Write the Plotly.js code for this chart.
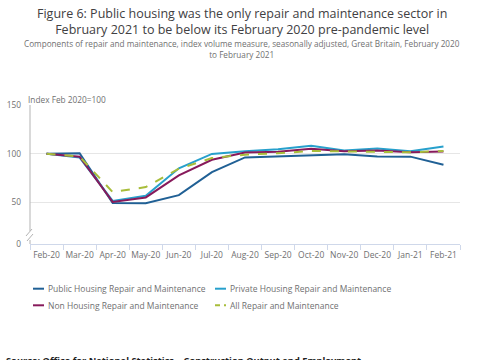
<!DOCTYPE html>
<html>
<head>
<meta charset="utf-8">
<script src="https://cdn.plot.ly/plotly-3.0.1.min.js"></script>
<style>html,body{margin:0;padding:0;background:#fff;}#chart{width:485px;height:360px;}</style>
</head>
<body>
<div id="chart"></div>
<script>
var months = ["Feb-20","Mar-20","Apr-20","May-20","Jun-20","Jul-20","Aug-20","Sep-20","Oct-20","Nov-20","Dec-20","Jan-21","Feb-21"];
var publicHousing = [100, 100.5, 49.3, 49.2, 57.5, 81, 96.2, 97.2, 98.2, 99.5, 97.2, 97.0, 88.7];
var privateHousing = [100, 96, 51.5, 56.9, 85, 99.8, 102.4, 104.5, 108.2, 103.3, 105.4, 102.5, 107.4];
var nonHousing = [100, 97, 50.5, 55.1, 77.7, 93.8, 101.2, 102.0, 105.1, 102.4, 103.4, 101.5, 102.2];
var allRepair = [100, 97, 60.6, 65.7, 84.6, 95.5, 99.0, 100.5, 102.8, 102.2, 102.0, 101.5, 102.8];
var seriesNames = ["Public Housing Repair and Maintenance","Private Housing Repair and Maintenance","Non Housing Repair and Maintenance","All Repair and Maintenance"];
var yTickVals = [7.3, 50, 100, 150];
var yTickText = ["0", "50", "100", "150"];

var colors = ["#206095", "#27a0cc", "#871a5b", "#a8bd3a"];
var dashes = ["solid", "solid", "solid", "dash"];
var font = "'Open Sans', sans-serif";
var series = [publicHousing, privateHousing, nonHousing, allRepair];
var data = series.map(function (y, i) {
  return {x: months, y: y, name: seriesNames[i], type: "scatter", mode: "lines",
    line: {color: colors[i], width: 2, dash: dashes[i]}, hoverinfo: "skip", showlegend: false};
});
function px(x){return (x-30)/430;}
function py(y){return (244-y)/139;}

var annotations = [
  {text: "Figure 6: Public housing was the only repair and maintenance sector in<br>February 2021 to be below its February 2020 pre-pandemic level",
    xref: "paper", yref: "paper", x: px(242), y: py(21.5), xanchor: "center", yanchor: "middle", showarrow: false,
    font: {family: font, size: 12.5, color: "#414042"}},
  {text: "Components of repair and maintenance, index volume measure, seasonally adjusted, Great Britain, February 2020<br>to February 2021",
    xref: "paper", yref: "paper", x: px(242), y: py(49), xanchor: "center", yanchor: "middle", showarrow: false,
    font: {family: font, size: 8.2, color: "#707071"}},
  {text: "Index Feb 2020=100", xref: "paper", yref: "paper", x: px(26), y: py(99), xanchor: "left", yanchor: "middle",
    showarrow: false, font: {family: font, size: 8.3, color: "#707071"}},
  {text: "<b>Source: Office for National Statistics – Construction Output and Employment</b>", xref: "paper", yref: "paper",
    x: px(4), y: py(360.5), xanchor: "left", yanchor: "middle", showarrow: false, font: {family: font, size: 9.3, color: "#222222"}}
];
var shapes = [
  {type: "line", xref: "paper", yref: "paper", x0: 0, x1: 0, y0: 1, y1: py(231), line: {color: "#b3b3b3", width: 1}},
  {type: "line", xref: "paper", yref: "paper", x0: 0, x1: 0, y0: py(240), y1: 0, line: {color: "#b3b3b3", width: 1}},
  {type: "line", xref: "paper", yref: "paper", x0: px(26), x1: px(32), y0: py(236), y1: py(229), line: {color: "#b3b3b3", width: 1}},
  {type: "line", xref: "paper", yref: "paper", x0: px(27), x1: px(33), y0: py(241), y1: py(234), line: {color: "#b3b3b3", width: 1}}
];
// legend: 2 columns x 2 rows
var legPos = [[33, 288.7], [215, 288.7], [33, 305.3], [215, 305.3]];
seriesNames.forEach(function (name, i) {
  var lx = legPos[i][0], ly = legPos[i][1];
  shapes.push({type: "line", xref: "paper", yref: "paper", x0: px(lx), x1: px(lx + 11), y0: py(ly), y1: py(ly),
    line: {color: colors[i], width: 2, dash: i === 3 ? "5px,4px" : "solid"}});
  annotations.push({text: name, xref: "paper", yref: "paper", x: px(lx + 13), y: py(ly), xanchor: "left", yanchor: "middle",
    showarrow: false, font: {family: font, size: 8.5, color: "#707071"}});
});

var layout = {
  width: 485, height: 360,
  margin: {l: 30, r: 25, t: 105, b: 116},
  paper_bgcolor: "#fff", plot_bgcolor: "#fff",
  font: {family: font, color: "#707071", size: 8.5},
  showlegend: false,
  xaxis: {type: "category", range: [-0.5, 12.5], showline: true, linecolor: "#cfd8ea", linewidth: 1,
    ticks: "outside", tickson: "boundaries", tickcolor: "#cfd8ea", ticklen: 5, showgrid: false, tickangle: 0,
    ticklabelstandoff: 3, tickfont: {family: font, size: 8.5, color: "#707071"}, fixedrange: true},
  yaxis: {range: [7.3, 150], tickvals: yTickVals, ticktext: yTickText, showgrid: true, gridcolor: "#e6e6e6",
    zeroline: false, showline: false, ticks: "", ticklabelstandoff: 8, tickfont: {family: font, size: 8.3, color: "#707071"}, fixedrange: true},
  annotations: annotations,
  shapes: shapes
};
Plotly.newPlot("chart", data, layout, {displayModeBar: false, staticPlot: true});
</script>
</body>
</html>
